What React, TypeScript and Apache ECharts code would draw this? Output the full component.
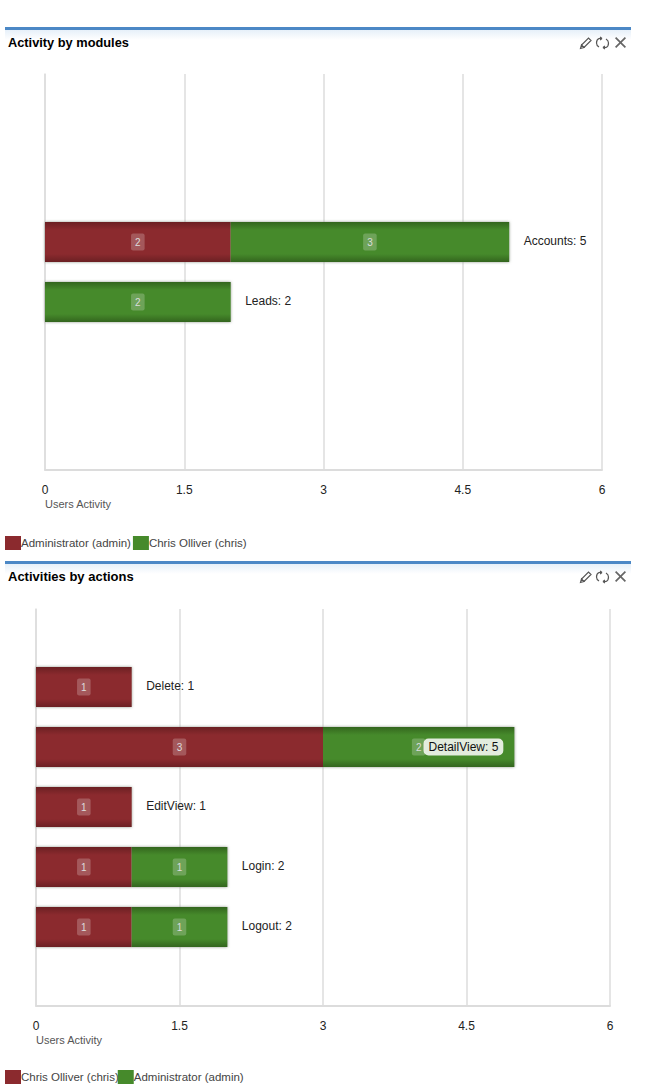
import React, { useEffect, useRef } from "react";
import * as echarts from "echarts";

const FONT = "'Liberation Sans', Arial, sans-serif";

const tickValues = { min: 0, max: 6, interval: 1.5 };
const axisCaption = "Users Activity";

const moduleTitle = "Activity by modules";
const moduleCategories = ["Accounts", "Leads"];
const moduleAdmin = [2, null];
const moduleChris = [3, 2];
const moduleTotals = [5, 2];

const actionTitle = "Activities by actions";
const actionCategories = ["Delete", "DetailView", "EditView", "Login", "Logout"];
const actionChris = [1, 3, 1, 1, 1];
const actionAdmin = [null, 2, null, 1, 1];
const actionTotals = [1, 5, 1, 2, 2];

const adminName = "Administrator (admin)";
const chrisName = "Chris Olliver (chris)";
const RED = "#8b2a2e";
const GREEN = "#468a2b";

echarts.graphic.registerShape(
  "pencilIcon",
  echarts.graphic.extendPath(
    "M0.5 11.5 L1.5 8 L8.5 1 L11 3.5 L4 10.5 Z M0.5 11.5 L1.5 8 L4 10.5 Z",
    {}
  )
);
echarts.graphic.registerShape(
  "refreshIcon",
  echarts.graphic.extendPath(
    "M6 1.5 L3 1.5 Q0.5 2.5 0.5 6 Q0.5 8.5 3 10 M6 1.5 L4 0 M6 1.5 L4 3 M7 10.5 L10 10.5 Q12.5 9.5 12.5 6 Q12.5 3.5 10 2 M7 10.5 L9 12 M7 10.5 L9 9",
    {}
  )
);
echarts.graphic.registerShape(
  "closeIcon",
  echarts.graphic.extendPath(
    "M1.2 0 L5.5 4.3 L9.8 0 L11 1.2 L6.7 5.5 L11 9.8 L9.8 11 L5.5 6.7 L1.2 11 L0 9.8 L4.3 5.5 L0 1.2 Z",
    {}
  )
);

function barFill(base: string, edge: string) {
  return new echarts.graphic.LinearGradient(0, 0, 0, 1, [
    { offset: 0, color: edge },
    { offset: 0.2, color: base },
    { offset: 0.8, color: base },
    { offset: 1, color: edge },
  ]);
}
const redFill = barFill(RED, "#6b2023");
const greenFill = barFill(GREEN, "#33651e");

const valueLabel = {
  show: true,
  position: "inside",
  formatter: "{c}",
  fontFamily: FONT,
  fontSize: 10,
  color: "#dcdcdc",
  backgroundColor: "rgba(255,255,255,0.22)",
  borderRadius: 2,
  padding: [4, 4, 3, 4],
};

type PanelCfg = {
  title: string;
  categories: string[];
  series: { name: string; values: (number | null)[]; fill: any; color: string }[];
  totals: number[];
  left: number;
  right: number;
  frameTop: number;
  frameBottom: number;
  barsTop: number;
  barsBottom: number;
  insideLabel?: string;
  legendGap: number;
  titleSize: number;
};

function buildOption(c: PanelCfg) {
  const hiddenX = { gridIndex: 1, type: "value", ...tickValues, show: false };
  return {
    animation: false,
    backgroundColor: "transparent",
    title: {
      text: c.title,
      left: 8,
      top: 9,
      padding: 0,
      textStyle: { fontFamily: FONT, fontSize: c.titleSize, fontWeight: "bold", color: "#000" },
    },
    legend: {
      left: 5,
      bottom: 3,
      padding: 0,
      itemGap: c.legendGap,
      itemWidth: 16,
      itemHeight: 14,
      icon: "rect",
      selectedMode: false,
      data: c.series.map((s) => ({
        name: s.name,
        itemStyle: { color: s.color },
        textStyle: {
          fontFamily: FONT,
          fontSize: 11.5,
          color: "#444",
          padding: [0, 0, 0, -5],
        },
      })),
    },
    grid: [
      { left: c.left, right: c.right, top: c.frameTop, bottom: c.frameBottom },
      { left: c.left, right: c.right, top: c.barsTop, bottom: c.barsBottom },
    ],
    xAxis: [
      {
        gridIndex: 0,
        type: "value",
        ...tickValues,
        name: axisCaption,
        nameLocation: "start",
        nameGap: 0,
        nameTextStyle: {
          fontFamily: FONT,
          fontSize: 11,
          color: "#555",
          align: "left",
          verticalAlign: "top",
          padding: [28, 0, 0, 0],
        },
        axisLine: { show: true, lineStyle: { color: "#dcdcdc", width: 2 } },
        axisTick: { show: false },
        axisLabel: { fontFamily: FONT, fontSize: 12, color: "#222", margin: 14 },
        splitLine: { show: true, lineStyle: { color: "#dcdcdc", width: 1.5 } },
      },
      hiddenX,
    ],
    yAxis: [
      {
        gridIndex: 0,
        type: "value",
        min: 0,
        max: 1,
        axisLine: { show: true, lineStyle: { color: "#dcdcdc", width: 1.5 } },
        axisTick: { show: false },
        axisLabel: { show: false },
        splitLine: { show: false },
      },
      {
        gridIndex: 1,
        type: "category",
        inverse: true,
        data: c.categories,
        show: false,
      },
    ],
    series: [
      {
        type: "bar",
        name: "Outline",
        xAxisIndex: 1,
        yAxisIndex: 1,
        barWidth: 40,
        barGap: "-100%",
        z: 1,
        data: c.totals,
        itemStyle: { color: "#b8bfb3", shadowColor: "#8f978a", shadowBlur: 3 },
      },
      ...c.series.map((s) => ({
        type: "bar",
        name: s.name,
        xAxisIndex: 1,
        yAxisIndex: 1,
        stack: "activity",
        barWidth: 40,
        barGap: "-100%",
        z: 2,
        data: s.values,
        itemStyle: { color: s.fill },
        label: valueLabel,
      })),
      {
        type: "bar",
        name: "Total",
        xAxisIndex: 1,
        yAxisIndex: 1,
        barWidth: 40,
        barGap: "-100%",
        z: 5,
        data: c.totals.map((v, i) =>
          c.categories[i] === c.insideLabel
            ? {
                value: v,
                label: {
                  position: "insideRight",
                  distance: 11,
                  offset: [0, 0],
                  color: "#111",
                  backgroundColor: "rgba(236,241,232,0.95)",
                  borderRadius: 5,
                  padding: [3, 5, 2, 5],
                },
              }
            : v
        ),
        itemStyle: { color: "transparent" },
        label: {
          show: true,
          position: "right",
          distance: 14.5,
          offset: [0, -1],
          formatter: "{b}: {c}",
          fontFamily: FONT,
          fontSize: 12,
          color: "#222",
        },
      },
    ],
    graphic: [
      {
        type: "rect",
        silent: true,
        shape: { x: 5, y: 0, width: 626, height: 3 },
        style: { fill: "#4c88c6" },
      },
      {
        type: "rect",
        silent: true,
        shape: { x: 5, y: 3, width: 626, height: 10 },
        style: {
          fill: new echarts.graphic.LinearGradient(0, 0, 0, 1, [
            { offset: 0, color: "#e6f0f9" },
            { offset: 1, color: "#ffffff" },
          ]),
        },
      },
      { type: "pencilIcon", x: 580, y: 10, style: { fill: "none", stroke: "#555", lineWidth: 1.2 } },
      { type: "refreshIcon", x: 596, y: 10, style: { fill: "none", stroke: "#555", lineWidth: 1.2 } },
      { type: "closeIcon", x: 615, y: 10, style: { fill: "#666" } },
    ],
  };
}

const panels: { top: number; height: number; cfg: PanelCfg }[] = [
  {
    top: 27,
    height: 526,
    cfg: {
      title: moduleTitle,
      titleSize: 12.8,
      categories: moduleCategories,
      series: [
        { name: adminName, values: moduleAdmin, fill: redFill, color: RED },
        { name: chrisName, values: moduleChris, fill: greenFill, color: GREEN },
      ],
      totals: moduleTotals,
      left: 45,
      right: 48,
      frameTop: 47,
      frameBottom: 83,
      barsTop: 185,
      barsBottom: 221,
      legendGap: 2,
    },
  },
  {
    top: 561,
    height: 526,
    cfg: {
      title: actionTitle,
      titleSize: 13,
      categories: actionCategories,
      series: [
        { name: chrisName, values: actionChris, fill: redFill, color: RED },
        { name: adminName, values: actionAdmin, fill: greenFill, color: GREEN },
      ],
      totals: actionTotals,
      left: 36,
      right: 40,
      frameTop: 48,
      frameBottom: 81,
      barsTop: 96,
      barsBottom: 130,
      insideLabel: "DetailView",
      legendGap: -1,
    },
  },
];

function Panel({ top, height, cfg }: { top: number; height: number; cfg: PanelCfg }) {
  const ref = useRef<HTMLDivElement>(null);
  useEffect(() => {
    const chart = echarts.init(ref.current!, undefined, { renderer: "svg" });
    chart.setOption(buildOption(cfg) as any);
    return () => chart.dispose();
  }, []);
  return (
    <div
      ref={ref}
      style={{ position: "absolute", left: 0, top, width: 650, height }}
    />
  );
}

export default function App() {
  return (
    <div style={{ position: "absolute", left: 0, top: 0, width: 650, height: 1087, background: "#fff", overflow: "hidden" }}>
      {panels.map((p, i) => (
        <Panel key={i} {...p} />
      ))}
    </div>
  );
}
